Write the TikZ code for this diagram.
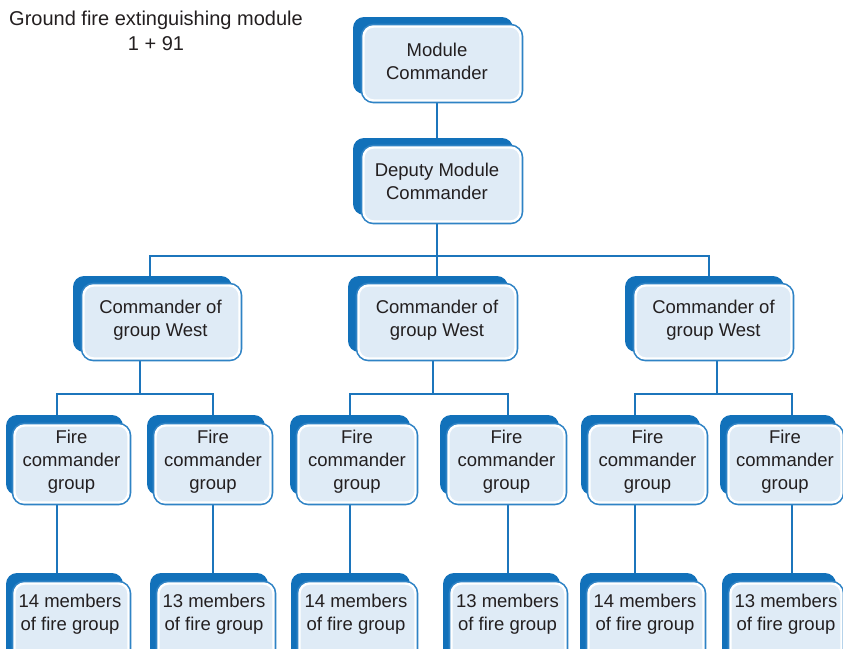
\documentclass[tikz,border=0pt]{standalone}
\usepackage{fontspec}
\setmainfont{Liberation Sans}
\usetikzlibrary{backgrounds}
\definecolor{backc}{HTML}{1271BA}
\definecolor{outc}{HTML}{2F83C5}
\definecolor{lightc}{HTML}{DFEBF6}
\definecolor{lnc}{HTML}{1C75BC}
\definecolor{txtc}{HTML}{231F20}
\pgfdeclarelayer{bg}
\pgfdeclarelayer{mid}
\pgfdeclarelayer{fr}
\pgfsetlayers{bg,mid,fr,main}
\tikzset{
  txt/.style={text=txtc, align=center, inner sep=1pt, font=\fontsize{18.5}{22.8}\selectfont},
  backbox/.style={fill=backc, rounded corners=11pt},
  frontbox/.style={fill=lightc, draw=white, line width=2.4pt, rounded corners=10pt,
    preaction={draw=outc, line width=5.6pt}},
  ln/.style={draw=lnc, line width=2pt}
}
% name, text x, text y, x1, y1, x2, y2, text  (front box corners, back offset 9/8)
\newcommand\obig[8]{%
  \node[txt] (#1) at (#2,#3) {#8};
  \begin{pgfonlayer}{mid}\fill[backbox] (#4-9,#5-8) rectangle (#6-9,#7-8);\end{pgfonlayer}
  \begin{pgfonlayer}{fr}\path[frontbox] (#4+1.5,#5+1.5) rectangle (#6-1.5,#7-1.5);\end{pgfonlayer}}
% same, back offset 7/9
\newcommand\osmall[8]{%
  \node[txt] (#1) at (#2,#3) {#8};
  \begin{pgfonlayer}{mid}\fill[backbox] (#4-7,#5-9) rectangle (#6-7,#7-9);\end{pgfonlayer}
  \begin{pgfonlayer}{fr}\path[frontbox] (#4+1.5,#5+1.5) rectangle (#6-1.5,#7-1.5);\end{pgfonlayer}}
\begin{document}
\begin{tikzpicture}[x=1pt, y=-1pt]
\useasboundingbox (0,0) rectangle (843,648);
\begin{pgfonlayer}{bg}
\fill[white] (0,0) rectangle (843,648);
\end{pgfonlayer}

\node[txt, font=\fontsize{20}{24.5}\selectfont] (title) at (156,31) {Ground fire extinguishing module\\1 + 91};

\obig{mod}{437}{61}{362}{25}{522}{102}{Module\\Commander}
\obig{dep}{437}{181.5}{362}{146}{522}{223}{Deputy Module\\Commander}

\obig{cmdL}{160.5}{320}{82}{284}{241}{360}{Commander of\\group West}
\obig{cmdM}{437}{320.5}{357}{284}{517}{360}{Commander of\\group West}
\obig{cmdR}{713.5}{320.5}{634}{284}{793}{360}{Commander of\\group West}

\osmall{fc1}{71.5}{462}{13}{424}{130}{504}{Fire\\commander\\group}
\osmall{fc2}{213}{462}{154}{424}{272}{504}{Fire\\commander\\group}
\osmall{fc3}{357}{462}{297}{424}{417}{504}{Fire\\commander\\group}
\osmall{fc4}{506.5}{462}{447}{424}{566}{504}{Fire\\commander\\group}
\osmall{fc5}{647.5}{462}{588}{424}{707}{504}{Fire\\commander\\group}
\osmall{fc6}{785}{462}{727}{424}{843}{504}{Fire\\commander\\group}

\osmall{mb1}{70}{614}{13}{582}{130}{672}{14 members\\of fire group}
\osmall{mb2}{214}{614}{157}{582}{275}{672}{13 members\\of fire group}
\osmall{mb3}{356}{614}{298}{582}{417}{672}{14 members\\of fire group}
\osmall{mb4}{507.5}{614}{450}{582}{567}{672}{13 members\\of fire group}
\osmall{mb5}{645}{614}{587}{582}{705}{672}{14 members\\of fire group}
\osmall{mb6}{786}{614}{729}{582}{843}{672}{13 members\\of fire group}

\begin{pgfonlayer}{bg}
\coordinate (j0) at (437,256);
\coordinate (bL) at (150,256);
\coordinate (bR) at (709,256);
\draw[ln] (mod) -- (dep);
\draw[ln] (dep) -- (j0);
\draw[ln] (bL |- cmdL) -- (bL) -- (bR) -- (bR |- cmdR);
\draw[ln] (j0) -- (cmdM);
% left group
\coordinate (sL) at (140,394);
\coordinate (g1) at (57,394);
\coordinate (g2) at (213,394);
\draw[ln] (sL |- cmdL) -- (sL);
\draw[ln] (g1 |- mb1) -- (g1) -- (g2) -- (g2 |- mb2);
% middle group
\coordinate (sM) at (433,394);
\coordinate (g3) at (350,394);
\coordinate (g4) at (508,394);
\draw[ln] (sM |- cmdM) -- (sM);
\draw[ln] (g3 |- mb3) -- (g3) -- (g4) -- (g4 |- mb4);
% right group
\coordinate (sR) at (717,394);
\coordinate (g5) at (635,394);
\coordinate (g6) at (792,394);
\draw[ln] (sR |- cmdR) -- (sR);
\draw[ln] (g5 |- mb5) -- (g5) -- (g6) -- (g6 |- mb6);
\end{pgfonlayer}
\end{tikzpicture}
\end{document}
